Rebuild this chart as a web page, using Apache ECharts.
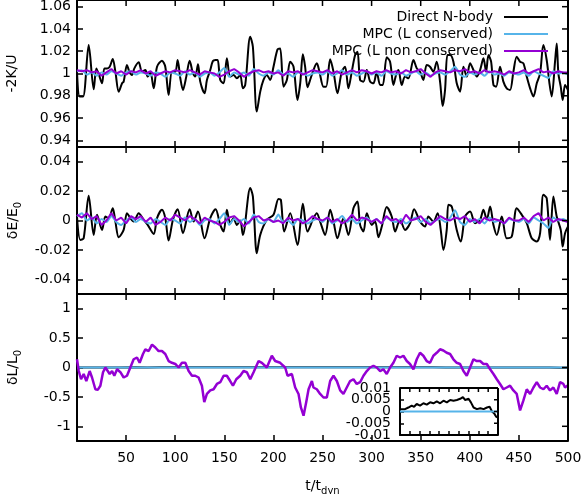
<!DOCTYPE html>
<html>
<head>
<meta charset="utf-8">
<script src="https://cdn.jsdelivr.net/npm/echarts@6/dist/echarts.min.js"></script>
<style>
html,body{margin:0;padding:0;background:#fff;overflow:hidden}
#chart_main{width:582px;height:494px}
</style>
</head>
<body>
<div id="chart_main"></div>
<script>
// time grid used by the two MPC runs (t/t_dyn)
var tGrid = [0,5,10,15,20,25,30,35,40,45,50,55,60,65,70,75,80,85,90,95,100,105,110,115,120,125,130,135,140,145,150,155,160,165,170,175,180,185,190,195,200,205,210,215,220,225,230,235,240,245,250,255,260,265,270,275,280,285,290,295,300,305,310,315,320,325,330,335,340,345,350,355,360,365,370,375,380,385,390,395,400,405,410,415,420,425,430,435,440,445,450,455,460,465,470,475,480,485,490,495,500];

// panel 1 : -2K/U
var kuDirect = [[0,1.0016],[2.8,0.9793],[6.2,0.9793],[11.9,1.0255],[17.0,0.9858],[19.7,1.0046],[22.1,0.9996],[25.5,0.9912],[27.9,1.0046],[30.6,1.0046],[33.3,1.0061],[36.4,1.0130],[39.1,1.0016],[42.5,0.9837],[45.9,0.9912],[47.5,0.9927],[50.9,1.0076],[53.3,1.0016],[56.0,0.9987],[58.4,1.0046],[62.8,1.0100],[66.2,1.0016],[69.6,1.0031],[72.0,0.9972],[74.7,1.0016],[78.1,0.9867],[81.5,1.0061],[86.5,1.0115],[89.9,1.0061],[93.3,0.9808],[96.7,1.0016],[100.1,1.0016],[102.5,1.0121],[105.2,0.9957],[107.9,0.9852],[111.3,0.9972],[114.7,1.0115],[118.1,1.0000],[120.4,0.9972],[123.2,1.0082],[125.5,0.9927],[129.9,0.9822],[132.3,0.9942],[135.7,1.0031],[138.4,1.0112],[141.1,1.0121],[143.2,1.0121],[145.9,0.9942],[149.3,0.9912],[152.6,1.0136],[156.0,0.9972],[159.4,0.9987],[162.8,0.9957],[166.2,0.9987],[168.9,0.9867],[171.3,0.9897],[176.4,1.0330],[179.1,1.0240],[183.1,0.9658],[186.6,0.9837],[189.9,0.9942],[193.3,0.9987],[196.7,0.9942],[200.1,1.0061],[204.2,1.0216],[206.9,1.0225],[210.3,0.9882],[213.7,0.9942],[217.1,1.0106],[220.5,1.0061],[224.5,0.9763],[227.3,0.9912],[230.0,1.0172],[232.3,1.0061],[234.7,0.9876],[237.4,0.9942],[240.8,1.0031],[244.2,1.0091],[246.9,1.0016],[251.0,0.9882],[253.7,0.9882],[257.8,1.0127],[261.2,1.0016],[265.2,0.9822],[269.6,1.0016],[273.0,1.0061],[276.4,0.9867],[279.8,1.0016],[283.2,1.0166],[285.6,1.0195],[288.3,0.9942],[291.7,0.9927],[295.1,1.0031],[298.5,0.9927],[301.9,0.9912],[305.2,1.0016],[308.7,0.9897],[311.4,0.9897],[315.4,1.0145],[318.8,1.0106],[322.2,0.9897],[324.9,0.9987],[327.3,1.0031],[330.7,0.9897],[334.1,0.9972],[337.5,0.9957],[342.6,1.0121],[346.0,1.0046],[349.3,1.0016],[352.7,0.9942],[356.1,1.0076],[359.5,1.0061],[362.9,1.0016],[366.3,1.0106],[369.7,0.9927],[372.4,0.9709],[374.8,0.9852],[377.2,1.0166],[379.9,1.0166],[383.3,1.0106],[386.7,0.9912],[390.1,0.9837],[393.5,1.0061],[396.9,0.9972],[400.3,1.0091],[403.7,1.0031],[407.1,0.9972],[410.5,1.0031],[413.9,1.0136],[416.6,1.0016],[419.0,1.0166],[421.7,1.0106],[424.1,0.9897],[426.8,0.9882],[430.8,1.0061],[434.2,0.9927],[437.6,0.9867],[441.0,0.9852],[444.4,1.0016],[447.8,1.0151],[451.2,1.0106],[454.6,1.0091],[458.0,0.9972],[461.4,0.9867],[464.8,0.9793],[468.2,0.9912],[471.6,1.0001],[474.9,1.0255],[478.3,1.0121],[481.1,0.9912],[483.4,0.9793],[486.8,1.0106],[488.5,1.0270],[490.2,1.0001],[492.6,0.9882],[494.6,0.9763],[497.0,0.9897],[500,0.9850]];
var kuMpcL = [1.002,1.003,0.999,1.001,0.998,1.001,0.999,1.002,1.000,0.998,1.001,1.002,0.999,1.001,1.000,0.998,1.001,1.000,0.997,1.001,1.000,0.998,1.002,0.999,1.001,0.997,1.000,1.001,0.998,1.001,1.005,0.997,1.001,0.999,1.001,0.998,1.004,1.000,0.998,1.001,0.999,1.003,0.999,1.000,0.997,1.001,1.000,0.998,1.000,1.001,0.999,1.002,0.998,1.000,1.003,0.999,1.001,0.998,1.000,1.002,0.999,1.001,0.998,1.002,1.000,0.999,1.001,0.998,1.000,1.002,0.999,1.001,0.998,1.000,1.001,0.999,1.002,1.006,0.999,0.997,1.001,0.999,1.001,0.998,1.002,0.999,1.000,0.998,1.001,1.000,0.999,1.001,0.998,1.002,1.000,0.998,0.996,1.002,1.000,1.001,0.999];
var kuMpcNL = [1.003,1.002,1.003,1.001,1.002,0.998,1.001,1.004,1.000,1.002,0.999,1.002,1.001,1.003,1.000,1.002,0.998,1.000,1.002,1.001,1.003,1.002,1.001,1.003,1.001,0.999,1.002,1.001,1.000,0.997,0.999,1.002,1.004,1.001,0.997,1.000,1.002,1.003,1.001,1.002,1.000,1.001,0.998,1.002,1.001,1.002,0.999,1.001,1.003,1.002,1.001,1.003,1.000,1.002,0.999,1.001,1.003,1.001,1.003,1.002,1.000,1.002,1.001,1.003,1.001,1.002,1.000,1.003,1.001,1.002,1.004,1.000,0.997,1.001,1.003,1.002,1.001,1.003,1.002,1.004,1.001,1.002,1.000,1.003,1.001,1.002,1.001,0.999,1.002,1.000,1.001,1.003,1.000,1.002,1.004,1.001,1.002,1.000,1.002,1.001,1.001];

// panel 2 : dE/E0
var deDirect = [[0,0.0027],[3.4,-0.0132],[6.8,-0.0121],[11.9,0.0168],[17.0,-0.0098],[20.4,0.0039],[25.5,-0.0064],[28.9,0.0027],[32.3,0.0016],[36.4,0.0084],[39.1,-0.0007],[42.5,-0.0114],[47.5,-0.0064],[50.9,0.0050],[54.3,0.0016],[57.7,-0.0007],[62.8,0.0050],[67.9,0.0005],[72.0,-0.0030],[78.1,-0.0091],[81.5,0.0016],[86.5,0.0073],[89.9,0.0016],[93.3,-0.0136],[97.7,0.0005],[102.5,0.0077],[107.9,-0.0086],[114.7,0.0077],[118.7,-0.0007],[123.2,0.0061],[129.9,-0.0121],[135.7,0.0016],[141.1,0.0077],[145.9,-0.0030],[149.3,-0.0075],[152.6,0.0073],[156.0,-0.0020],[159.4,0.0016],[162.8,-0.0030],[166.2,0.0000],[168.9,-0.0098],[176.4,0.0221],[179.1,0.0164],[183.1,-0.0223],[186.6,-0.0098],[193.3,0.0005],[200.1,0.0039],[205.2,0.0146],[207.6,0.0141],[211.0,-0.0075],[217.1,0.0050],[224.5,-0.0166],[230.0,0.0114],[234.7,-0.0075],[240.8,0.0016],[244.2,0.0050],[247.6,-0.0007],[252.7,-0.0098],[257.8,0.0073],[261.2,-0.0007],[265.2,-0.0121],[271.3,0.0016],[276.4,-0.0098],[281.5,0.0084],[285.6,0.0130],[288.3,-0.0030],[291.7,-0.0075],[295.1,0.0050],[300.2,-0.0030],[303.6,-0.0007],[307.0,-0.0114],[310.4,-0.0041],[315.4,0.0091],[320.5,0.0027],[323.9,-0.0075],[329.0,0.0005],[334.1,-0.0064],[339.2,-0.0018],[343.3,0.0077],[349.3,-0.0007],[354.4,-0.0041],[357.8,0.0027],[362.9,-0.0007],[367.3,0.0050],[370.4,-0.0064],[373.1,-0.0200],[376.5,-0.0064],[378.2,0.0107],[381.6,0.0095],[386.7,-0.0064],[390.8,-0.0143],[395.2,0.0027],[400.3,0.0061],[405.4,-0.0018],[410.5,0.0005],[413.9,0.0073],[417.3,0.0005],[420.7,0.0095],[424.1,-0.0030],[427.5,-0.0098],[432.6,0.0027],[437.6,-0.0121],[442.7,-0.0109],[447.8,0.0084],[452.9,0.0039],[458.0,-0.0018],[463.1,-0.0121],[468.2,-0.0143],[471.6,-0.0086],[474.9,0.0175],[478.3,0.0152],[481.7,-0.0132],[485.1,0.0164],[488.5,0.0027],[492.6,-0.0064],[494.6,-0.0177],[497.0,-0.0086],[500,-0.0040]];
var deMpcL = [0.003,0.005,0.000,0.002,-0.002,0.001,-0.001,0.003,-0.001,-0.003,0.000,0.002,-0.001,0.001,-0.001,-0.002,0.001,-0.001,-0.003,0.001,0.000,-0.002,0.002,-0.001,0.001,-0.003,0.000,0.001,-0.002,0.001,0.005,-0.003,0.001,-0.001,0.001,-0.002,0.004,-0.001,-0.002,0.001,-0.001,0.004,-0.001,0.000,-0.003,0.001,0.000,-0.002,0.000,0.001,-0.001,0.002,-0.002,0.000,0.003,-0.001,0.001,-0.002,0.000,0.002,-0.001,0.001,-0.002,0.002,0.000,-0.001,0.001,-0.002,0.000,0.002,-0.001,0.001,-0.002,0.000,0.001,-0.001,0.002,0.007,-0.001,-0.003,0.001,-0.001,0.001,-0.002,0.002,-0.001,0.000,-0.002,0.001,0.000,-0.001,0.001,-0.002,0.002,0.000,-0.002,-0.005,0.002,0.000,0.001,-0.001];
var deMpcNL = [0.004,0.002,0.005,0.001,0.003,-0.003,0.000,0.005,0.000,0.002,-0.002,0.003,0.001,0.003,-0.001,0.002,-0.003,-0.001,0.002,0.000,0.004,0.002,0.000,0.003,0.001,-0.002,0.002,0.000,-0.001,-0.003,-0.001,0.002,0.003,0.000,-0.004,-0.001,0.002,0.003,0.000,0.001,-0.001,0.000,-0.002,0.002,0.000,0.001,-0.002,0.000,0.003,0.001,0.000,0.002,-0.001,0.001,-0.002,0.000,0.004,0.000,0.002,0.001,-0.001,0.001,-0.002,0.003,0.000,0.001,-0.002,0.004,0.000,0.001,0.003,-0.001,-0.003,0.000,0.003,0.001,0.000,0.002,0.001,0.003,-0.001,0.001,-0.002,0.002,0.000,0.001,0.000,-0.002,0.002,0.000,0.000,0.002,-0.001,0.003,0.005,0.000,0.002,-0.001,0.001,0.000,-0.001];

// panel 3 : dL/L0
var dlDirect = [[0,0.0010],[3.4,0.0010],[25.6,0.0010],[42.7,0.0017],[59.7,0.0025],[71.7,0.0020],[85.3,0.0032],[102.4,0.0025],[119.5,0.0035],[136.5,0.0029],[153.6,0.0039],[170.6,0.0035],[187.7,0.0043],[204.8,0.0035],[221.8,0.0046],[238.9,0.0039],[256.0,0.0049],[273.0,0.0046],[290.1,0.0049],[307.2,0.0054],[320.8,0.0061],[332.8,0.0049],[349.8,0.0054],[361.8,0.0039],[375.4,0.0017],[392.5,0.0010],[409.6,0.0014],[426.6,0.0010],[443.7,0.0017],[457.3,0.0020],[469.3,0.0000],[481.2,-0.0009],[491.5,-0.0023],[500,-0.0026]];
var dlMpcL = [[0,0],[500,0]];
var dlMpcNL = [[0,0.14],[1.8,-0.06],[4.1,-0.20],[6.8,-0.11],[9.5,-0.23],[12.9,-0.06],[15.3,-0.17],[18.7,-0.37],[21.1,-0.38],[23.8,-0.31],[26.5,-0.08],[28.9,0.00],[30.6,0.03],[33.3,-0.11],[35.7,-0.06],[38.0,-0.14],[40.8,-0.03],[44.2,-0.08],[47.5,-0.17],[50.9,-0.14],[54.3,0.00],[57.7,0.14],[61.1,0.17],[63.8,0.08],[67.2,0.23],[69.6,0.31],[73.0,0.28],[76.4,0.39],[79.8,0.34],[83.1,0.28],[86.5,0.28],[89.9,0.23],[93.3,0.11],[96.7,0.08],[100.1,0.06],[103.5,0.00],[106.9,0.08],[110.3,0.08],[113.7,-0.06],[117.1,-0.14],[120.4,-0.14],[123.8,-0.17],[127.2,-0.31],[129.6,-0.59],[132.3,-0.45],[135.7,-0.39],[139.1,-0.37],[142.5,-0.28],[145.9,-0.25],[149.3,-0.14],[152.6,-0.14],[156.0,-0.23],[158.8,-0.31],[162.2,-0.20],[166.2,-0.14],[169.6,-0.06],[173.0,-0.08],[176.4,-0.20],[179.8,-0.08],[184.9,0.11],[188.3,0.08],[193.3,0.00],[198.4,0.20],[201.8,0.11],[206.9,0.08],[212.0,0.00],[214.4,-0.14],[218.8,-0.11],[222.2,-0.34],[225.6,-0.45],[228.0,-0.68],[230.7,-0.82],[233.4,-0.59],[235.8,-0.37],[239.2,-0.23],[240.8,-0.34],[244.2,-0.37],[247.6,-0.45],[251.0,-0.51],[254.4,-0.51],[257.8,-0.23],[261.2,-0.14],[264.6,-0.23],[268.0,-0.39],[271.3,-0.45],[274.7,-0.34],[278.1,-0.23],[281.5,-0.20],[284.9,-0.28],[288.3,-0.25],[291.7,-0.14],[295.1,-0.06],[298.5,0.00],[301.9,0.03],[305.2,0.00],[308.7,-0.06],[312.0,-0.03],[315.4,-0.11],[318.8,0.00],[322.2,0.08],[325.6,0.20],[329.0,0.17],[332.4,0.20],[335.8,0.11],[339.1,0.06],[342.6,-0.03],[346.0,0.14],[349.3,0.25],[352.7,0.20],[356.1,0.11],[359.5,0.08],[362.9,0.20],[366.3,0.25],[369.7,0.31],[373.1,0.29],[376.5,0.25],[379.9,0.23],[383.3,0.14],[386.7,0.08],[390.1,0.06],[393.5,-0.06],[396.9,-0.14],[400.3,0.00],[403.7,0.14],[407.1,0.11],[410.5,0.11],[413.9,0.06],[417.3,0.06],[420.7,-0.03],[424.1,-0.11],[427.5,-0.20],[430.8,-0.28],[434.2,-0.37],[437.6,-0.34],[441.0,-0.31],[444.4,-0.39],[447.8,-0.45],[451.2,-0.73],[454.6,-0.56],[458.0,-0.37],[461.4,-0.45],[464.8,-0.34],[468.2,-0.25],[471.6,-0.34],[475.0,-0.37],[478.3,-0.31],[481.7,-0.39],[485.1,-0.34],[488.5,-0.45],[491.9,-0.25],[495.3,-0.28],[497.0,-0.34],[500,-0.30]];

// tick labels
var xTicks = [50,100,150,200,250,300,350,400,450];
var kuTicks = [0.94,0.96,0.98,1,1.02,1.04,1.06];
var deTicks = [-0.04,-0.02,0,0.02,0.04];
var dlTicks = [-1,-0.5,0,0.5,1];
var inTicks = [-0.01,-0.005,0,0.005,0.01];
var inLabelsA = [-0.01,0,0.01];
var inLabelsB = [-0.005,0.005];

var names = ['Direct N-body','MPC (L conserved)','MPC (L non conserved)'];
var colors = ['#000000','#56b4e9','#9400d3'];
var FONT = 'DejaVu Sans';

function zipT(vals){
  var out = [];
  for (var i = 0; i < tGrid.length; i++) out.push([tGrid[i], vals[i]]);
  return out;
}

var frame = {show:true,onZero:false,lineStyle:{color:'#000',width:2}};
var txt = {color:'#000',fontFamily:FONT,fontSize:14};

function xAxis(gi, showLabels, tickLen){
  var ax = {type:'value',gridIndex:gi,min:0,max:500,interval:50,splitLine:{show:false},position:'bottom',axisLine:frame,
    axisTick:{show:true,inside:true,length:tickLen,lineStyle:{color:'#000',width:1.5}},
    axisLabel:Object.assign({show:showLabels,margin:10,formatter:function(v){return v===0?'':String(v);}},txt)};
  if (showLabels) {
    ax.name = '{a|t/t}{b|dyn}';
    ax.nameLocation = 'middle';
    ax.nameGap = 36;
    ax.nameMoveOverlap = false;
    ax.nameTextStyle = {rich:{a:txt,b:{color:'#000',fontFamily:FONT,fontSize:10,padding:[9,0,0,0]}}};
  }
  return ax;
}

function yAxis(gi, min, max, ticks, labels, name, gap, tickLen, labMargin){
  var ax = {type:'value',gridIndex:gi,min:min,max:max,position:'left',splitLine:{show:false},axisLine:frame,
    axisTick:{show:true,inside:true,length:tickLen,customValues:ticks,lineStyle:{color:'#000',width:1.5}},
    axisLabel:Object.assign({margin:labMargin,customValues:labels,hideOverlap:false,
      formatter:function(v){return String(v);}},txt)};
  if (name) {
    ax.name = name; ax.nameLocation = 'middle'; ax.nameGap = gap; ax.nameRotate = 90;
    ax.nameMoveOverlap = false;
    ax.nameTextStyle = {rich:{m:txt,s:{color:'#000',fontFamily:FONT,fontSize:10,padding:[9,0,0,0]}}};
  }
  return ax;
}

var ys = [
  yAxis(0, 0.934, 1.066, kuTicks, kuTicks, '{m|-2K/U}', 58, 6, 6),
  yAxis(1, -0.05, 0.05, deTicks, deTicks, '{m|δE/E}{s|0}', 54, 6, 6),
  yAxis(2, -1.25, 1.25, dlTicks, dlTicks, '{m|δL/L}{s|0}', 54, 6, 6),
  yAxis(3, -0.01, 0.01, inTicks, inLabelsA, null, 0, 4, 9)
];
// second label column for the inset (the labels overlap each other, as in the original)
ys.push({type:'value',gridIndex:3,min:-0.01,max:0.01,position:'left',splitLine:{show:false},
  axisLine:{show:false,onZero:false},axisTick:{show:false},
  axisLabel:Object.assign({margin:9,customValues:inLabelsB,hideOverlap:false,formatter:function(v){return String(v);}},txt)});

function line(k, data, gi, w, sm){
  return {name:names[k],type:'line',xAxisIndex:gi,yAxisIndex:gi,data:data,showSymbol:false,symbol:'none',
    smooth:sm||false,color:colors[k],lineStyle:{color:colors[k],width:w},silent:true};
}

var option = {
  animation:false,
  backgroundColor:'#fff',
  grid:[
    {left:77,right:14,top:0,height:147,outerBoundsMode:'none'},
    {left:77,right:14,top:147,height:147,outerBoundsMode:'none'},
    {left:77,right:14,top:294,height:147,outerBoundsMode:'none'},
    {left:400,top:388,width:98,height:47,outerBoundsMode:'none',show:true,backgroundColor:'#fff',borderWidth:0}
  ],
  xAxis:[xAxis(0,false,6), xAxis(1,false,6), xAxis(2,true,6), xAxis(3,false,4)],
  yAxis:ys,
  legend:{
    data:names,orient:'vertical',right:29,top:5,align:'right',icon:'rect',
    itemWidth:44,itemHeight:2,itemGap:3,
    textStyle:Object.assign({padding:[0,6,0,0]},txt)
  },
  series:[
    line(0,kuDirect,0,2,0.3), line(1,zipT(kuMpcL),0,2,0.2), line(2,zipT(kuMpcNL),0,2),
    line(0,deDirect,1,2,0.3), line(1,zipT(deMpcL),1,2,0.2), line(2,zipT(deMpcNL),1,2),
    line(0,dlDirect,2,2), line(1,dlMpcL,2,2), line(2,dlMpcNL,2,2.5),
    line(0,dlDirect,3,2), line(1,dlMpcL,3,2)
  ]
};

var myChart = echarts.init(document.getElementById('chart_main'));
myChart.setOption(option);

// full frame plus mirrored ticks on the top and right edges, placed through the axes' own scales
var frames = [
  {gi:0, y0:0.934, y1:1.066, ticks:kuTicks, len:6},
  {gi:1, y0:-0.05, y1:0.05, ticks:deTicks, len:6},
  {gi:2, y0:-1.25, y1:1.25, ticks:dlTicks, len:6},
  {gi:3, y0:-0.01, y1:0.01, ticks:inTicks, len:4}
];
var deco = [];
frames.forEach(function(f){
  var xl = myChart.convertToPixel({xAxisIndex:f.gi}, 0);
  var xr = myChart.convertToPixel({xAxisIndex:f.gi}, 500);
  var yt = myChart.convertToPixel({yAxisIndex:f.gi}, f.y1);
  var yb = myChart.convertToPixel({yAxisIndex:f.gi}, f.y0);
  var ls = {stroke:'#000',lineWidth:2,fill:null};
  deco.push({type:'line',z:100,silent:true,shape:{x1:xr,y1:yt,x2:xr,y2:yb},style:ls});
  deco.push({type:'line',z:100,silent:true,shape:{x1:xl,y1:yt,x2:xr,y2:yt},style:ls});
  f.ticks.forEach(function(v){
    var y = myChart.convertToPixel({yAxisIndex:f.gi}, v);
    deco.push({type:'line',z:100,silent:true,shape:{x1:xr,y1:y,x2:xr-f.len,y2:y},style:{stroke:'#000',lineWidth:1.5}});
  });
  xTicks.forEach(function(v){
    var x = myChart.convertToPixel({xAxisIndex:f.gi}, v);
    deco.push({type:'line',z:100,silent:true,shape:{x1:x,y1:yt,x2:x,y2:yt+f.len},style:{stroke:'#000',lineWidth:1.5}});
  });
});
myChart.setOption({graphic:deco});
window.addEventListener('resize',function(){myChart.resize();});
</script>
</body>
</html>
